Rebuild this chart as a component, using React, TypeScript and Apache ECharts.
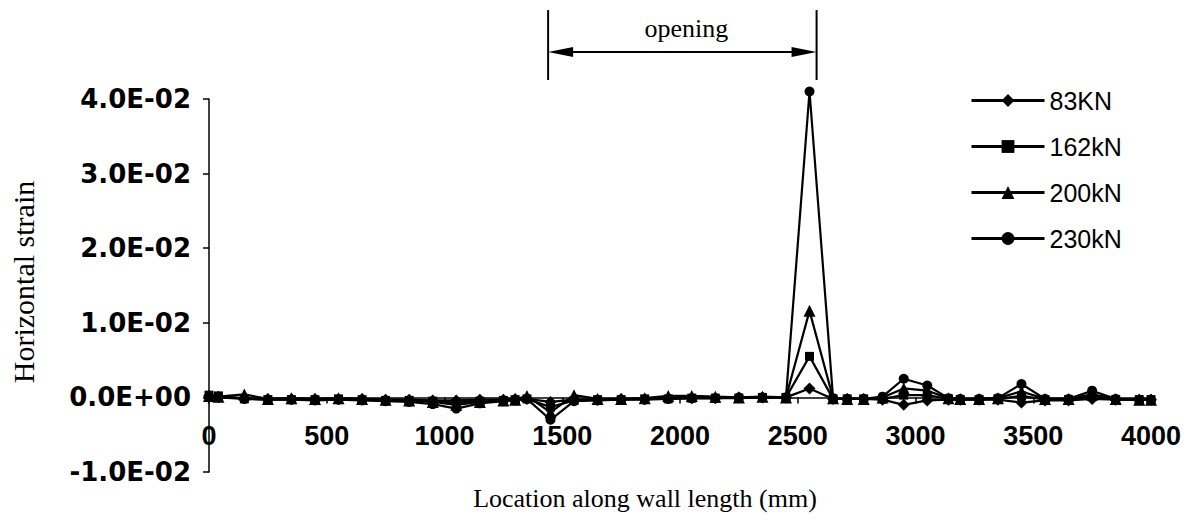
import React, { useEffect, useRef } from "react";
import * as echarts from "echarts";

// Sensor locations along the wall (mm)
const locations = [
  0, 40, 150, 250, 350, 450, 550, 650, 750, 850, 950, 1050, 1150, 1250, 1300, 1350, 1450, 1550, 1650,
  1750, 1850, 1950, 2050, 2150, 2250, 2350, 2450, 2550, 2650, 2710, 2780, 2860, 2950, 3050, 3140, 3190,
  3270, 3350, 3450, 3550, 3650, 3750, 3850, 3950, 4000,
];

const seriesNames = ["83KN", "162kN", "200kN", "230kN"];
const seriesSymbols = ["diamond", "rect", "triangle", "circle"];
const seriesSymbolSizes = [12, 9, 12, 10];

const strain83 = [
  0.0002, 0.0001, -0.0001, -0.0002, -0.0002, -0.0002, -0.0002, -0.0002, -0.0003, -0.0003, -0.0004, -0.0004,
  -0.0003, -0.0003, -0.0002, -0.0002, -0.0006, -0.0003, -0.0003, -0.0002, -0.0002, -0.0001, -0.0001, -0.0001,
  0, 0, 0, 0.0012, -0.0002, -0.0002, -0.0002, -0.0003, -0.001, -0.0004, -0.0003, -0.0003, -0.0003, -0.0003,
  -0.0007, -0.0004, -0.0004, -0.0002, -0.0003, -0.0003, -0.0003,
];
const strain162 = [
  0.0003, 0.0002, -0.0002, -0.0003, -0.0003, -0.0003, -0.0002, -0.0003, -0.0004, -0.0004, -0.0005, -0.0007,
  -0.0005, -0.0004, -0.0003, -0.0002, -0.0013, -0.0004, -0.0003, -0.0003, -0.0002, -0.0002, -0.0001, -0.0001,
  -0.0001, 0, 0, 0.0055, -0.0002, -0.0002, -0.0002, -0.0002, 0.0003, 0.0003, -0.0002, -0.0003, -0.0003,
  -0.0002, 0.0002, -0.0003, -0.0003, 0.0001, -0.0003, -0.0003, -0.0003,
];
const strain200 = [
  0.0002, 0.0001, 0.0004, -0.0002, -0.0001, -0.0002, -0.0001, -0.0002, -0.0003, -0.0004, -0.0006, -0.001,
  -0.0006, -0.0004, -0.0003, 0.0002, -0.002, 0.0003, -0.0002, -0.0002, -0.0001, 0.0002, 0.0002, 0.0001, 0,
  0.0001, 0, 0.0116, -0.0001, -0.0002, -0.0002, 0, 0.0012, 0.0009, -0.0001, -0.0002, -0.0002, -0.0001,
  0.0008, -0.0002, -0.0002, 0.0004, -0.0002, -0.0003, -0.0003,
];
const strain230 = [
  0.0001, 0, -0.0002, -0.0003, -0.0003, -0.0004, -0.0003, -0.0004, -0.0005, -0.0006, -0.0009, -0.0015,
  -0.0008, -0.0005, -0.0004, -0.0002, -0.003, -0.0005, -0.0004, -0.0003, -0.0003, -0.0002, -0.0001, -0.0001,
  0, 0, 0, 0.041, -0.0001, -0.0002, -0.0002, 0.0001, 0.0025, 0.0016, -0.0001, -0.0002, -0.0002, -0.0001,
  0.0018, -0.0002, -0.0002, 0.0009, -0.0002, -0.0003, -0.0003,
];
const seriesValues = [strain83, strain162, strain200, strain230];

// Axis settings
const xMin = 0;
const xMax = 4000;
const xInterval = 500;
const yMin = -0.01;
const yMax = 0.04;
const yInterval = 0.01;

// Opening annotation (mm)
const openingStart = 1440;
const openingEnd = 2580;
const openingLabel = "opening";
const xTitle = "Location along wall length (mm)";
const yTitle = "Horizontal strain";

// Layout
const W = 1194;
const H = 527;
const gridLeft = 209;
const gridRight = 43;
const gridTop = 99;
const gridBottom = 55;
const gridHeight = H - gridTop - gridBottom;
// place the x axis (line, ticks, labels) on the y = 0 line
const xAxisOffset = -((0 - yMin) / (yMax - yMin)) * gridHeight;

function formatSci(v: number): string {
  const s = Number(v).toExponential(1); // e.g. 4.0e-2
  const m = s.match(/^(-?\d\.\d)e([+-])(\d+)$/);
  if (!m) return s;
  const exp = m[3].padStart(2, "0");
  return `${m[1]}E${m[2]}${exp}`;
}

export default function App() {
  const ref = useRef<HTMLDivElement>(null);

  useEffect(() => {
    if (!ref.current) return;
    const chart = echarts.init(ref.current, undefined, { renderer: "svg" });

    const series = seriesNames.map((name, i) => ({
      name,
      type: "line",
      clip: false,
      data: locations.map((x, j) => [x, seriesValues[i][j]]),
      symbol: seriesSymbols[i],
      symbolSize: seriesSymbolSizes[i],
      showAllSymbol: true,
      lineStyle: { color: "#000", width: 2.2 },
      itemStyle: { color: "#000", borderColor: "#000", borderWidth: 0 },
      z: 2 + i,
    }));

    chart.setOption({
      animation: false,
      backgroundColor: "#fff",
      grid: { left: gridLeft, right: gridRight, top: gridTop, bottom: gridBottom, containLabel: false },
      legend: {
        orient: "vertical",
        left: 965,
        top: 83,
        itemWidth: 73,
        itemHeight: 16,
        itemGap: 21,
        data: seriesNames,
        lineStyle: { color: "#000", width: 3 },
        textStyle: { fontFamily: "Liberation Sans", fontSize: 25, color: "#000" },
      },
      xAxis: {
        type: "value",
        position: "bottom",
        offset: xAxisOffset,
        min: xMin,
        max: xMax,
        interval: xInterval,
        axisLine: { onZero: false, lineStyle: { color: "#000", width: 1.5 } },
        axisTick: { show: true, length: 6, lineStyle: { color: "#000", width: 1.5 } },
        axisLabel: {
          margin: 25,
          fontFamily: "Liberation Sans",
          fontWeight: "bold",
          fontSize: 27,
          color: "#000",
          formatter: (v: number) => String(v),
        },
        splitLine: { show: false },
      },
      yAxis: {
        type: "value",
        min: yMin,
        max: yMax,
        interval: yInterval,
        axisLine: { show: true, onZero: false, lineStyle: { color: "#000", width: 1.5 } },
        axisTick: { show: true, length: 6, lineStyle: { color: "#000", width: 1.5 } },
        axisLabel: {
          margin: 18,
          fontFamily: "DejaVu Sans",
          fontWeight: "bold",
          fontSize: 26,
          color: "#000",
          formatter: (v: number) => formatSci(v),
        },
        splitLine: { show: false },
      },
      series,
    });

    const xs = chart.convertToPixel({ xAxisIndex: 0 }, openingStart) as number;
    const xe = chart.convertToPixel({ xAxisIndex: 0 }, openingEnd) as number;
    const ay = 52;
    const head = 25;
    const hh = 5;

    chart.setOption({
      graphic: [
        {
          type: "text",
          x: 23,
          y: 282,
          rotation: Math.PI / 2,
          style: {
            text: yTitle,
            fontFamily: "Liberation Serif",
            fontSize: 30,
            fill: "#000",
            align: "center",
            verticalAlign: "middle",
          },
        },
        {
          type: "text",
          x: 645,
          y: 498,
          style: {
            text: xTitle,
            fontFamily: "Liberation Serif",
            fontSize: 26,
            fill: "#000",
            align: "center",
            verticalAlign: "middle",
          },
        },
        {
          type: "line",
          shape: { x1: xs, y1: 10, x2: xs, y2: 80 },
          style: { stroke: "#000", lineWidth: 2 },
        },
        {
          type: "line",
          shape: { x1: xe, y1: 10, x2: xe, y2: 80 },
          style: { stroke: "#000", lineWidth: 2 },
        },
        {
          type: "line",
          shape: { x1: xs + 5, y1: ay, x2: xe - 5, y2: ay },
          style: { stroke: "#000", lineWidth: 2 },
        },
        {
          type: "polygon",
          shape: { points: [[xs, ay], [xs + head, ay - hh], [xs + head, ay + hh]] },
          style: { fill: "#000" },
        },
        {
          type: "polygon",
          shape: { points: [[xe, ay], [xe - head, ay - hh], [xe - head, ay + hh]] },
          style: { fill: "#000" },
        },
        {
          type: "text",
          x: (xs + xe) / 2 + 4,
          y: 28,
          style: {
            text: openingLabel,
            fontFamily: "Liberation Serif",
            fontSize: 26,
            fill: "#000",
            align: "center",
            verticalAlign: "middle",
          },
        },
      ],
    });

    return () => chart.dispose();
  }, []);

  return (
    <div
      ref={ref}
      style={{ position: "absolute", left: 0, top: 0, width: W, height: H, background: "#fff" }}
    />
  );
}
